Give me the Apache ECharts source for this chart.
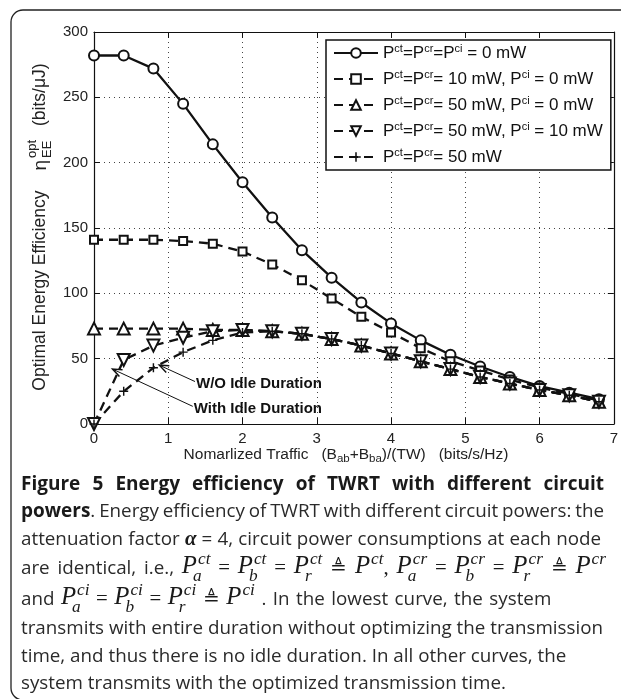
<!DOCTYPE html>
<html><head><meta charset="utf-8">
<script src="https://cdn.jsdelivr.net/npm/echarts@6/dist/echarts.min.js"></script>
<style>html,body{margin:0;padding:0;background:#fff}#c{width:621px;height:699px}</style>
</head><body><div id="c"></div>
<script>
// ---------- data ----------
const traffic      = [0, 0.4, 0.8, 1.2, 1.6, 2.0, 2.4, 2.8, 3.2, 3.6, 4.0, 4.4, 4.8, 5.2, 5.6, 6.0, 6.4, 6.8];
const eeAll0       = [282, 282, 272, 245, 214, 185, 158, 133, 112, 93, 77, 64, 53, 44, 36, 29, 24, 19];
const eeCirc10     = [141, 141, 141, 140, 138, 132, 122, 110, 96, 82, 70, 58, 48, 41, 34, 28, 23, 18];
const eeCirc50     = [73, 73, 73, 73, 72, 72, 71, 69, 65, 60, 54, 48, 42, 36, 31, 26, 22, 17];
const eeCirc50Idle = [0, 49, 60, 66, 71, 72, 71, 69, 65, 60, 54, 48, 42, 36, 31, 26, 22, 17];
const eeNoIdle     = [0, 25, 43, 55, 64, 70, 71, 69, 65, 60, 54, 48, 42, 36, 31, 26, 22, 17];
const seriesNames  = [
  'P^ct=P^cr=P^ci = 0 mW',
  'P^ct=P^cr= 10 mW, P^ci = 0 mW',
  'P^ct=P^cr= 50 mW, P^ci = 0 mW',
  'P^ct=P^cr= 50 mW, P^ci = 10 mW',
  'P^ct=P^cr= 50 mW'
];
const xTicks = [0, 1, 2, 3, 4, 5, 6, 7];
const yTicks = [0, 50, 100, 150, 200, 250, 300];
const annotations = [
  {text: 'W/O Idle Duration', at: [1.36, 32.5], tip: [0.88, 45]},
  {text: 'With Idle Duration', at: [1.33, 13.5], tip: [0.25, 42]}
];

// ---------- chart ----------
const chart = echarts.init(document.getElementById('c'), null, {renderer: 'canvas'});
const INK = '#111';
const AX = 'Liberation Sans';

function mkSeries(name, vals, symbol, size, dashed, filled) {
  return {
    name, type: 'line', data: traffic.map((x, i) => [x, vals[i]]),
    symbol, symbolSize: size, showSymbol: true, showAllSymbol: true,
    lineStyle: {color: INK, width: 2.3, type: dashed ? [9, 6] : 'solid'},
    itemStyle: filled ? {color: INK, borderWidth: 0} : {color: '#fff', borderColor: INK, borderWidth: 2},
    emphasis: {disabled: true}, animation: false, z: 3
  };
}

const baseAxis = {
  axisLine: {show: true, onZero: false, lineStyle: {color: INK, width: 1.2}},
  axisTick: {show: true, inside: true, length: 6, lineStyle: {color: INK, width: 1}},
};

const option = {
  animation: false,
  backgroundColor: '#fff',
  grid: {left: 94, top: 32, width: 523, height: 392},
  xAxis: [
    Object.assign({type: 'value', min: xTicks[0], max: xTicks[xTicks.length - 1], interval: 1, position: 'bottom',
      axisLabel: {fontSize: 15, color: '#222', fontFamily: AX, margin: 7},
      splitLine: {show: true, lineStyle: {type: [1, 4], color: '#444', width: 1}}}, baseAxis),
    Object.assign({type: 'value', min: xTicks[0], max: xTicks[xTicks.length - 1], interval: 1, position: 'top',
      axisLabel: {show: false}, splitLine: {show: false}}, baseAxis)
  ],
  yAxis: [
    Object.assign({type: 'value', min: yTicks[0], max: yTicks[yTicks.length - 1], interval: 50, position: 'left',
      axisLabel: {fontSize: 15, color: '#222', fontFamily: AX, margin: 6},
      splitLine: {show: true, lineStyle: {type: [1, 4], color: '#444', width: 1}}}, baseAxis),
    Object.assign({type: 'value', min: yTicks[0], max: yTicks[yTicks.length - 1], interval: 50, position: 'right',
      axisLabel: {show: false}, splitLine: {show: false}}, baseAxis)
  ],
  legend: {
    orient: 'vertical', left: 326, top: 40,
    padding: [3, 8, 3, 7], itemGap: 6, itemWidth: 44, itemHeight: 12, itemTextGap: 5,
    borderColor: INK, borderWidth: 1.5, backgroundColor: '#fff',
    selectedMode: false,
    formatter: n => n.replace(/\^(\w+)/g, '{s|$1}'),
    textStyle: {fontSize: 17, lineHeight: 20, color: INK, fontFamily: AX,
      rich: {s: {fontSize: 11, lineHeight: 11, verticalAlign: 'top', fontFamily: AX, color: INK}}},
    data: seriesNames
  },
  series: [
    mkSeries(seriesNames[0], eeAll0, 'circle', 10, false, false),
    mkSeries(seriesNames[1], eeCirc10, 'rect', 8, true, false),
    mkSeries(seriesNames[2], eeCirc50, 'triangle', 12, true, false),
    mkSeries(seriesNames[3], eeCirc50Idle, 'path://M0,0L10,0L5,8.66Z', 12, true, false),
    mkSeries(seriesNames[4], eeNoIdle, 'path://M0,4.2H10V5.8H0Z M4.2,0H5.8V10H4.2Z', 9, true, true)
  ]
};
chart.setOption(option);

// ---------- text helpers ----------
const mctx = document.createElement('canvas').getContext('2d');
function mw(s, font) { mctx.font = font; return mctx.measureText(s).width; }

// calibrate caption size so the (unjustified) 6th line spans its width in the figure
const CAL_LINE = 'transmits with entire duration without optimizing the transmission';
const CAPS = Math.round(100 * 582 / mw(CAL_LINE, '100px "Open Sans"') * 10) / 10;
const REG = CAPS + 'px "Open Sans"';
const BOLD = 'bold ' + (CAPS + 0.2) + 'px "Open Sans"';
const PF = 'italic ' + (CAPS + 6) + 'px "Liberation Serif"';
const SF = 'italic ' + (CAPS - 1.5) + 'px "Liberation Serif"';
const EQ = (CAPS + 2) + 'px "Liberation Serif"';
const DEF = (CAPS + 1) + 'px "DejaVu Serif"';
const ALPHA = 'italic bold ' + (CAPS + 2) + 'px "Liberation Serif"';

function W(str, font, fill) { return str.split(' ').map(w => [{s: w, font, fill}]); }
function M(sub, sup) { return {P: true, sub, sup}; }
function segW(seg) {
  if (seg.P) return mw('P', PF) + Math.max(mw(seg.sup, SF), mw(seg.sub, SF) - 2) + 1;
  return mw(seg.s, seg.font);
}
function sizeOf(font) { return parseFloat(font.match(/([\d.]+)px/)[1]); }
function txt(x, base, s, font, fill) {
  const sz = sizeOf(font);
  return {type: 'text', x, y: base - 0.35 * sz, silent: true,
    style: {text: s, font, fill: fill || '#2a2a2a', align: 'left', verticalAlign: 'middle'}};
}
function renderSeg(seg, x, base) {
  if (seg.P) {
    const wp = mw('P', PF);
    const out = [txt(x, base, 'P', PF, '#1a1a1a'), txt(x + wp + 1, base - 10, seg.sup, SF, '#1a1a1a')];
    if (seg.sub) out.push(txt(x + wp - 4, base + 7, seg.sub, SF, '#1a1a1a'));
    return out;
  }
  return [txt(x, base, seg.s, seg.font, seg.fill)];
}
function layoutLine(words, x0, x1, mid, justify, gap) {
  const base = mid + 0.35 * CAPS;
  const widths = words.map(w => w.reduce((a, s) => a + segW(s), 0));
  const sum = widths.reduce((a, b) => a + b, 0);
  const g = justify ? (x1 - x0 - sum) / (words.length - 1) : gap;
  let x = x0; const out = [];
  words.forEach(w => { w.forEach(seg => { out.push(...renderSeg(seg, x, base)); x += segW(seg); }); x += g; });
  return out;
}

const L = 21, R = 604, SP = mw(' ', REG);
const cap = [];
cap.push(...layoutLine(W('Figure 5 Energy efficiency of TWRT with different circuit', BOLD, '#1a1a1a'), L, R, 485, true));
cap.push(...layoutLine([[{s: 'powers', font: BOLD, fill: '#1a1a1a'}, {s: '.', font: REG}],
  ...W('Energy efficiency of TWRT with different circuit powers: the', REG)], L, R, 512, true));
cap.push(...layoutLine([...W('attenuation factor', REG), [{s: 'α', font: ALPHA, fill: '#1a1a1a'}],
  ...W('= 4, circuit power consumptions at each node', REG)], L, R - 3, 540, true));
const eq = [{s: '=', font: EQ, fill: '#1a1a1a'}], df = [{s: '≜', font: DEF, fill: '#1a1a1a'}];
cap.push(...layoutLine([...W('are identical, i.e.,', REG), [M('a', 'ct')], eq, [M('b', 'ct')], eq, [M('r', 'ct')], df,
  [M('', 'ct'), {s: ',', font: EQ, fill: '#1a1a1a'}], [M('a', 'cr')], eq, [M('b', 'cr')], eq, [M('r', 'cr')], df, [M('', 'cr')]],
  L, R + 2, 569, true));
cap.push(...layoutLine([[{s: 'and', font: REG}], [M('a', 'ci')], eq, [M('b', 'ci')], eq, [M('r', 'ci')], df, [M('', 'ci')],
  ...W('. In the lowest curve, the system', REG)], L, R, 600, false, 6.5));
cap.push(...layoutLine(W(CAL_LINE, REG), L, R, 629, false, SP));
cap.push(...layoutLine(W('time, and thus there is no idle duration. In all other curves, the', REG), L, R, 657, false, SP));
cap.push(...layoutLine(W('system transmits with the optimized transmission time.', REG), L, R, 684, false, SP));

// y-axis name (rotated group)
const YF = '17.5px "' + AX + '"', YS = '13px "' + AX + '"', YE = '19px "' + AX + '"';
const yKids = [];
let yx = 0;
const yt1 = 'Optimal Energy Efficiency';
yKids.push({type: 'text', x: yx, y: 0, style: {text: yt1, font: YF, fill: '#222', align: 'left', verticalAlign: 'middle'}});
yx += mw(yt1, YF) + 20;
yKids.push({type: 'text', x: yx, y: 1, style: {text: 'η', font: YE, fill: '#222', align: 'left', verticalAlign: 'middle'}});
yx += mw('η', YE) + 2;
yKids.push({type: 'text', x: yx, y: -8, style: {text: 'opt', font: YS, fill: '#222', align: 'left', verticalAlign: 'middle'}});
yKids.push({type: 'text', x: yx, y: 7, style: {text: 'EE', font: YS, fill: '#222', align: 'left', verticalAlign: 'middle'}});
yx += Math.max(mw('opt', YS), mw('EE', YS)) + 14;
yKids.push({type: 'text', x: yx, y: 0, style: {text: '(bits/μJ)', font: YF, fill: '#222', align: 'left', verticalAlign: 'middle'}});
yx += mw('(bits/μJ)', YF);

// annotations
const ann = [];
annotations.forEach(a => {
  const p = chart.convertToPixel({gridIndex: 0}, a.at);
  const t = chart.convertToPixel({gridIndex: 0}, a.tip);
  ann.push({type: 'text', x: p[0] + 1, y: p[1] + 2, silent: true, z: 10,
    style: {text: a.text, font: 'bold 15px "' + AX + '"', fill: INK, align: 'left', verticalAlign: 'middle'}});
  const ang = Math.atan2(p[1] - t[1], p[0] - t[0]);
  const hl = 10, ha = 0.38;
  ann.push({type: 'line', silent: true, z: 10, shape: {x1: p[0], y1: p[1], x2: t[0], y2: t[1]}, style: {stroke: INK, lineWidth: 1}});
  ann.push({type: 'polyline', silent: true, z: 10, shape: {points: [
    [t[0] + hl * Math.cos(ang + ha), t[1] + hl * Math.sin(ang + ha)], t,
    [t[0] + hl * Math.cos(ang - ha), t[1] + hl * Math.sin(ang - ha)]]}, style: {stroke: INK, lineWidth: 1.5, fill: null}});
});

// x-axis name
const xName = {type: 'text', x: 346, y: 455, silent: true,
  style: {text: '{n|Nomarlized Traffic   (B}{b|ab}{n|+B}{b|ba}{n|)/(TW)   (bits/s/Hz)}',
    align: 'center', verticalAlign: 'middle', fill: '#222',
    rich: {n: {fontSize: 15.5, lineHeight: 20, fontFamily: AX, fill: '#222'},
           b: {fontSize: 11.5, lineHeight: 11, verticalAlign: 'bottom', fontFamily: AX, fill: '#222'}}}};

chart.setOption({
  graphic: [
    {type: 'rect', z: -10, silent: true, shape: {x: 11, y: 10, width: 700, height: 690, r: 12},
      style: {fill: 'none', stroke: '#222', lineWidth: 1.3}},
    {type: 'group', x: 40, y: 227 + yx / 2, rotation: Math.PI / 2, silent: true, children: yKids},
    xName,
    ...ann,
    ...cap
  ]
});
</script>
</body></html>
